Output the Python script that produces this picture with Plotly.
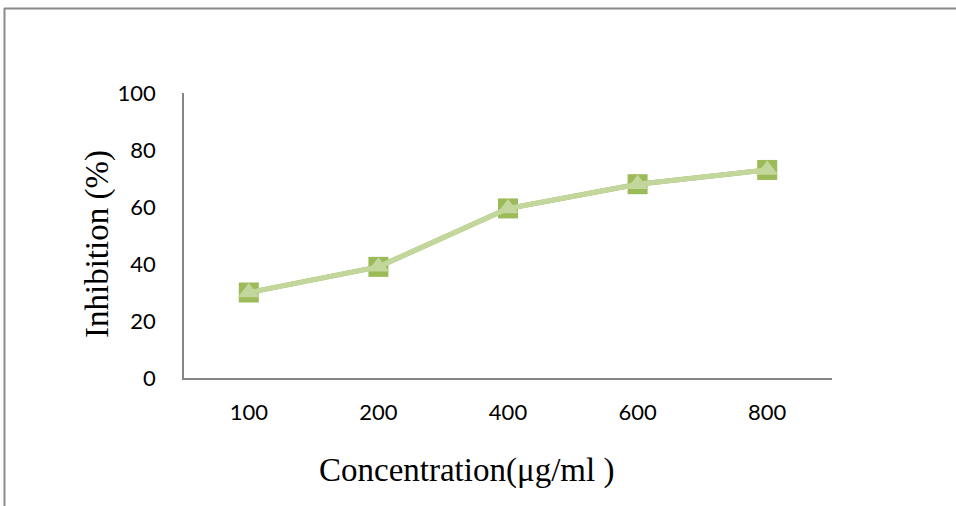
import plotly.graph_objects as go

categories = ["100", "200", "400", "600", "800"]
series_a = [30, 39, 59.5, 68, 73]
series_b = [30, 39, 59.5, 68, 73]
y_ticks = [0, 20, 40, 60, 80, 100]

fig = go.Figure()
fig.add_trace(go.Scatter(
    x=categories, y=series_a, mode="lines+markers",
    line=dict(color="#9BBB59", width=5),
    marker=dict(symbol="square", size=20, color="#9BBB59"),
    showlegend=False))
fig.add_trace(go.Scatter(
    x=categories, y=series_b, mode="lines+markers",
    line=dict(color="#C3D69B", width=5),
    marker=dict(symbol="triangle-up", size=19, color="#C3D69B"),
    showlegend=False))

L, R, T, B = 184, 124, 93, 128
W, H = 956, 506
pw, ph = W - L - R, H - T - B

def px(x):
    return (x - L) / pw

def py(y):
    return (H - B - y) / ph

fig.update_layout(
    width=W, height=H,
    margin=dict(l=L, r=R, t=T, b=B),
    paper_bgcolor="white", plot_bgcolor="white",
    xaxis=dict(
        type="category", range=[-0.5, 4.5],
        showline=True, linecolor="#868686", linewidth=1.5,
        showgrid=False, zeroline=False,
        ticks="outside", ticklen=14, tickcolor="rgba(0,0,0,0)",
        tickfont=dict(family="Lato", size=22, color="black"),
    ),
    yaxis=dict(
        range=[0, 100], tickvals=y_ticks,
        showline=True, linecolor="#868686", linewidth=1.5,
        showgrid=False, zeroline=False,
        ticks="outside", ticklen=22, tickcolor="rgba(0,0,0,0)",
        tickfont=dict(family="Lato", size=22, color="black"),
    ),
    annotations=[
        dict(text="Concentration(μg/ml )", xref="paper", yref="paper",
             x=px(466.5), y=py(470), showarrow=False,
             xanchor="center", yanchor="middle",
             font=dict(family="Liberation Serif", size=33, color="black")),
        dict(text="Inhibition (%)", xref="paper", yref="paper",
             x=px(97), y=py(244), showarrow=False, textangle=-90,
             xanchor="center", yanchor="middle",
             font=dict(family="Liberation Serif", size=33, color="black")),
    ],
    shapes=[
        dict(type="line", xref="paper", yref="paper",
             x0=px(4), x1=px(W + 2), y0=py(8.5), y1=py(8.5),
             line=dict(color="#8a8a8a", width=2)),
        dict(type="line", xref="paper", yref="paper",
             x0=px(4.5), x1=px(4.5), y0=py(8), y1=py(H + 2),
             line=dict(color="#8a8a8a", width=2)),
    ],
)

fig.write_html("out.html",
               config={"displayModeBar": False},
               post_script="document.body.style.margin='0px';document.body.style.overflow='hidden';")
